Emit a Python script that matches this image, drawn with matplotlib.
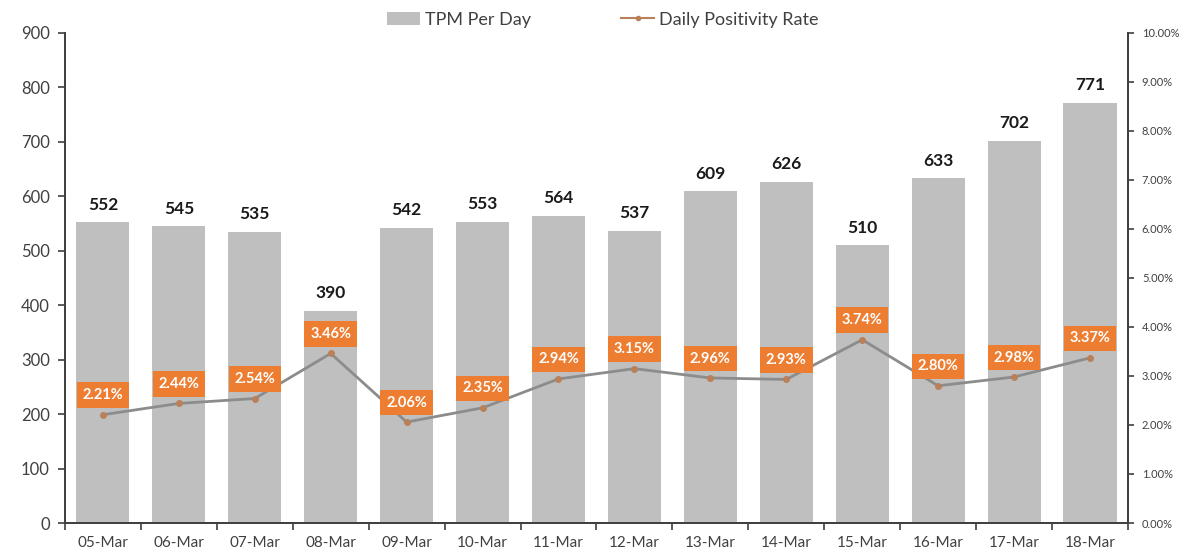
import numpy as np
import matplotlib
matplotlib.use("Agg")
import matplotlib.pyplot as plt
from matplotlib.ticker import FuncFormatter, FixedLocator

plt.rcParams["font.family"] = ["Lato", "DejaVu Sans"]

dates = ["05-Mar", "06-Mar", "07-Mar", "08-Mar", "09-Mar", "10-Mar", "11-Mar",
         "12-Mar", "13-Mar", "14-Mar", "15-Mar", "16-Mar", "17-Mar", "18-Mar"]
tpm_per_day = [552, 545, 535, 390, 542, 553, 564, 537, 609, 626, 510, 633, 702, 771]
positivity_pct = [2.21, 2.44, 2.54, 3.46, 2.06, 2.35, 2.94, 3.15, 2.96, 2.93, 3.74, 2.80, 2.98, 3.37]

BAR_GREY = "#BFBFBF"
ORANGE = "#ED7D31"
LINE_GREY = "#8C8C8C"
MARKER = "#B9805A"
TEXT = "#404040"

fig = plt.figure(figsize=(11.94, 5.59), dpi=100)
ax = fig.add_axes([0.0544, 0.0644, 0.8903, 0.8766])
ax2 = ax.twinx()

x = np.arange(len(dates))
bars = ax.bar(x, tpm_per_day, width=0.7, color=BAR_GREY, label="TPM Per Day", zorder=2)
for xi, v in zip(x, tpm_per_day):
    ax.annotate(str(v), (xi, v), xytext=(0, 7), textcoords="offset points",
                ha="center", va="bottom", fontsize=12.5, fontweight="bold", color="#1a1a1a")

ax.set_xlim(-0.5, len(dates) - 0.5)
ax.set_ylim(0, 900)
ax.set_yticks(range(0, 901, 100))
ax.set_xticks(x)
ax.set_xticklabels(dates)
ax.xaxis.set_minor_locator(FixedLocator(np.arange(-0.5, len(dates), 1.0)))
ax.tick_params(axis="x", which="major", length=0, pad=9, labelsize=11, labelcolor=TEXT)
ax.tick_params(axis="x", which="minor", length=5, width=1.2, direction="out", color="#404040")
ax.tick_params(axis="y", length=5, width=1.2, labelsize=12, labelcolor=TEXT, color="#404040", pad=6)

# positivity line on the right axis
vals = np.array(positivity_pct) / 100.0
line, = ax2.plot(x, vals, color=LINE_GREY, lw=2, marker="o", ms=4,
                 mfc=MARKER, mec=MARKER, label="Daily Positivity Rate", zorder=3)
for xi, v, p in zip(x, vals, positivity_pct):
    ax2.annotate(f"{p:.2f}%", (xi, v), xytext=(0, 14), textcoords="offset points",
                 ha="center", va="center", fontsize=10.5, fontweight="bold", color="white",
                 bbox=dict(boxstyle="square,pad=0.4", fc=ORANGE, ec="none"))
ax2.set_ylim(0, 0.10)
ax2.set_yticks(np.arange(0, 0.1001, 0.01))
ax2.yaxis.set_major_formatter(FuncFormatter(lambda v, _: f"{v * 100:.2f}%"))
ax2.tick_params(axis="y", length=4, width=1.2, labelsize=8, labelcolor=TEXT, color="#404040", pad=6)

for a in (ax, ax2):
    a.spines["top"].set_visible(False)
    for s in ("left", "right", "bottom"):
        a.spines[s].set_color("#404040")
        a.spines[s].set_linewidth(1.3)
ax.set_zorder(ax2.get_zorder() - 1)
ax2.patch.set_visible(False)

leg_line = plt.Line2D([], [], color=MARKER, lw=1.5, marker="o", ms=3, mfc=MARKER, mec=MARKER)
fig.legend([bars, leg_line], ["TPM Per Day", "Daily Positivity Rate"],
           loc="center", bbox_to_anchor=(0.505, 0.965), ncol=2, frameon=False,
           fontsize=13, handlelength=1.8, handletextpad=0.3, columnspacing=5,
           labelcolor=TEXT)

fig.savefig("out.png", dpi=100)
